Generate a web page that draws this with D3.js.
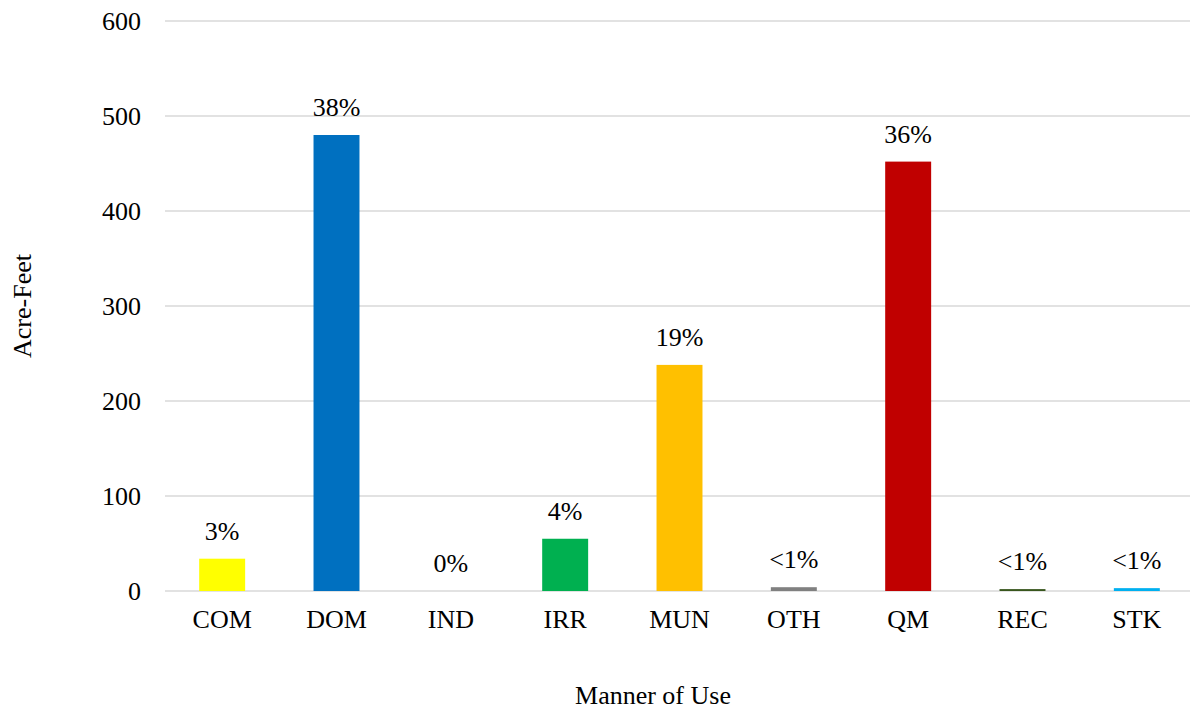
<!DOCTYPE html>
<html>
<head>
<meta charset="utf-8">
<script src="https://cdn.jsdelivr.net/npm/d3@7"></script>
<style>
  body { margin: 0; background: #fff; overflow: hidden; }
</style>
</head>
<body>
<div id="chart"></div>
<script>
// chart data
const categories = ["COM", "DOM", "IND", "IRR", "MUN", "OTH", "QM", "REC", "STK"];
const values = [34, 480, 0, 55, 238, 4, 452, 2, 3];
const pctLabels = ["3%", "38%", "0%", "4%", "19%", "<1%", "36%", "<1%", "<1%"];
const colors = ["#FFFF00", "#0070C0", "#A5A5A5", "#00B050", "#FFC000", "#808080", "#C00000", "#38561D", "#00B0F0"];
const yTicks = [0, 100, 200, 300, 400, 500, 600];

const FONT = "'Liberation Serif', 'Times New Roman', serif";
const W = 1190, H = 711;
// plot area runs a little past the right edge of the picture (cropped)
const margin = { top: 21, right: -4, bottom: 120, left: 165 };
const width = W - margin.left - margin.right,
  height = H - margin.top - margin.bottom;

const svg = d3.select("#chart").append("svg")
  .attr("width", W)
  .attr("height", H)
  .attr("font-family", FONT);

const g = svg.append("g")
  .attr("transform", "translate(" + margin.left + "," + margin.top + ")");

const x = d3.scaleBand()
  .domain(categories)
  .range([0, width])
  .paddingInner(0.598)
  .paddingOuter(0.299);

const y = d3.scaleLinear()
  .domain([0, 600])
  .range([height, 0]);

// gridlines
g.selectAll("line.grid")
  .data(yTicks)
  .enter().append("line")
  .attr("class", "grid")
  .attr("x1", 0)
  .attr("x2", width)
  .attr("y1", d => y(d))
  .attr("y2", d => y(d))
  .style("stroke", "#d9d9d9")
  .style("stroke-width", "1.3px");

// y axis labels
const yAxis = g.append("g")
  .call(d3.axisLeft(y).tickValues(yTicks).tickSize(0).tickPadding(24));
yAxis.select(".domain").remove();
yAxis.selectAll("text")
  .style("font-size", "26px")
  .style("font-family", FONT)
  .style("fill", "#000");

// x axis labels
const xAxis = g.append("g")
  .attr("transform", "translate(0," + height + ")")
  .call(d3.axisBottom(x).tickSize(0).tickPadding(19));
xAxis.select(".domain").remove();
xAxis.selectAll("text")
  .style("font-size", "26px")
  .style("font-family", FONT)
  .style("fill", "#000");

// bars
g.selectAll("rect.bar")
  .data(categories)
  .enter().append("rect")
  .attr("class", "bar")
  .attr("x", d => x(d))
  .attr("width", x.bandwidth())
  .attr("y", (d, i) => y(values[i]))
  .attr("height", (d, i) => height - y(values[i]))
  .style("fill", (d, i) => colors[i]);

// value labels
g.selectAll("text.lbl")
  .data(categories)
  .enter().append("text")
  .attr("class", "lbl")
  .attr("x", d => x(d) + x.bandwidth() / 2)
  .attr("y", (d, i) => y(values[i]) - 19)
  .attr("text-anchor", "middle")
  .style("font-size", "26px")
  .style("font-family", FONT)
  .text((d, i) => pctLabels[i]);

// axis titles
svg.append("text")
  .attr("transform", "translate(31," + (margin.top + height / 2) + ") rotate(-90)")
  .attr("text-anchor", "middle")
  .style("font-size", "26px")
  .style("font-family", FONT)
  .text("Acre-Feet");

svg.append("text")
  .attr("x", 653)
  .attr("y", 704)
  .attr("text-anchor", "middle")
  .style("font-size", "26px")
  .style("font-family", FONT)
  .text("Manner of Use");
</script>
</body>
</html>
